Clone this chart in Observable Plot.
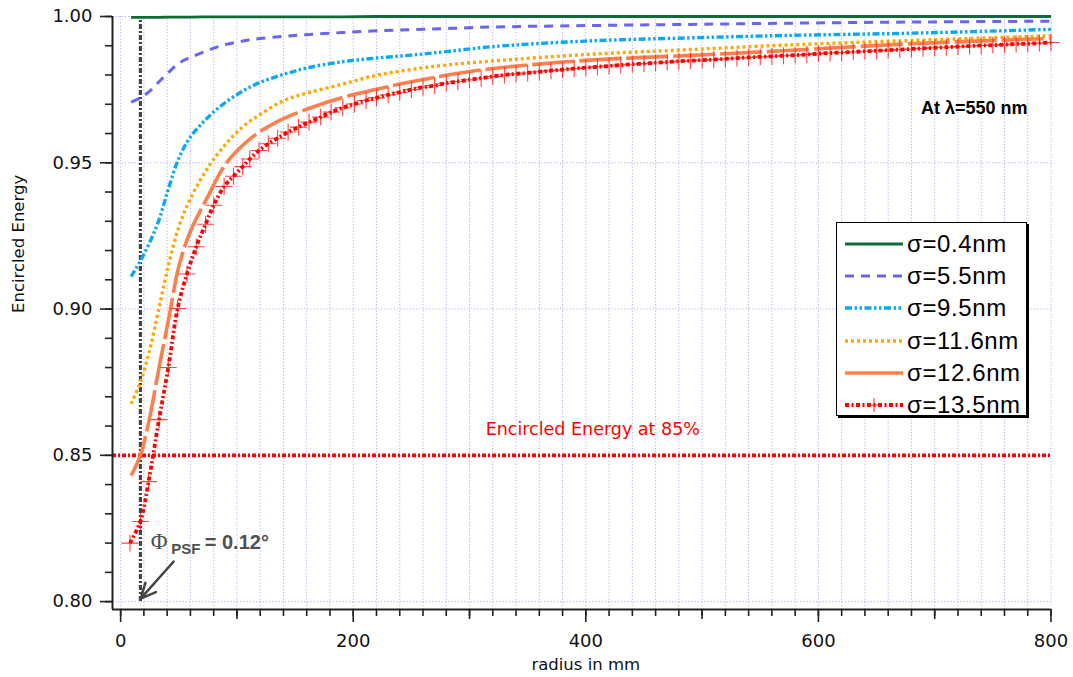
<!DOCTYPE html>
<html>
<head>
<meta charset="utf-8">
<script src="https://cdn.jsdelivr.net/npm/d3@7"></script>
<script src="https://cdn.jsdelivr.net/npm/@observablehq/plot@0.6"></script>
<style>
  html, body { margin: 0; padding: 0; background: #fff; }
  #wrap { position: relative; width: 1073px; height: 677px; overflow: hidden; }
  #legend { position: absolute; left: 836px; top: 222px; width: 191px; height: 194px;
    border: 1.5px solid #000; box-shadow: 2px 2px 0 #000; background: #fff; box-sizing: border-box; }
  .row { position: absolute; left: 0; height: 32px; display: flex; align-items: center; }
  .row svg { margin-left: 8px; }
  .row span { font-family: "Liberation Sans", Arial, sans-serif; font-size: 24px; letter-spacing: 0.6px; color: #000; margin-left: 4px; }
</style>
</head>
<body>
<div id="wrap"><div id="chart"></div><div id="legend"></div></div>
<script>
// ---- data ----
const radius = [9,17,25,33,41,50,60,75,90,105,120,140,160,190,220,250,280,320,400,490,570,680,800];
const s04  = [0.9997,0.9997,0.9997,0.9997,0.9998,0.9998,0.9998,0.9999,0.9999,0.9999,0.9999,0.9999,0.9999,0.9999,1,1,1,1,1,1,1,1,1];
const s55  = [0.9707,0.9722,0.9745,0.9777,0.9808,0.9840,0.9860,0.9884,0.9904,0.9916,0.9925,0.9932,0.9938,0.9945,0.9951,0.9955,0.9959,0.9964,0.9969,0.9973,0.9977,0.9981,0.9984];
const s95  = [0.9111,0.9165,0.9228,0.9305,0.9410,0.9515,0.9588,0.9655,0.9706,0.9745,0.9775,0.9802,0.9824,0.9845,0.9858,0.9868,0.9880,0.9897,0.9916,0.9927,0.9935,0.9943,0.9956];
const s116 = [0.8676,0.8750,0.8860,0.9003,0.9147,0.9280,0.9378,0.9483,0.9562,0.9623,0.9665,0.9712,0.9738,0.9768,0.9799,0.9819,0.9834,0.9848,0.9870,0.9887,0.9902,0.9918,0.9934];
const s126 = [0.8431,0.8501,0.8630,0.8800,0.8960,0.9145,0.9266,0.9385,0.9494,0.9560,0.9607,0.9651,0.9683,0.9722,0.9751,0.9777,0.9799,0.9822,0.9850,0.9867,0.9883,0.9907,0.9925];

const radius135 = [8,17,24,33,41,49,57,65,73,80,89,97,105,111,119,127,135,144,153,162,172,181,191,201,211,220,230,240,250,260,270,280,290,300,310,320,
  330,340,350,360,370,380,390,400,410,420,430,440,450,460,470,480,490,500,510,520,530,540,550,560,570,580,590,600,
  610,620,630,640,650,660,670,680,690,700,710,720,730,740,750,760,770,780,790,800];
const s135 = [0.8200,0.8274,0.8410,0.8622,0.8800,0.9002,0.9120,0.9213,0.9290,0.9355,0.9419,0.9454,0.9487,0.9513,0.9542,0.9565,0.9584,0.9605,0.9622,0.9639,0.9656,0.9673,0.9688,0.9701,0.9713,0.9722,0.9732,0.9741,0.9750,0.9758,0.9764,0.9772,0.9778,0.9784,0.9789,0.9795,
  0.9800,0.9804,0.9807,0.9811,0.9815,0.9818,0.9822,0.9825,0.9828,0.9831,0.9834,0.9837,0.9839,0.9842,0.9844,0.9847,0.9849,0.9851,0.9853,0.9855,0.9858,0.9860,0.9862,0.9864,0.9866,0.9868,0.9870,0.9873,
  0.9875,0.9877,0.9879,0.9881,0.9883,0.9885,0.9887,0.9889,0.9891,0.9893,0.9895,0.9897,0.9899,0.9901,0.9902,0.9904,0.9906,0.9907,0.9909,0.9911];

const seriesNames = ["σ=0.4nm","σ=5.5nm","σ=9.5nm","σ=11.6nm","σ=12.6nm","σ=13.5nm"];
const seriesColors = ["#0e6b35","#6666f2","#0aa8f5","#ffa800","#ff7f4c","#ff0000"];
const seriesDash = ["none","9,7","7,2.5,2.5,2.5,2.5,2.5","3,3","42,5","4,2.5,2,2.5"];
const seriesWidth = [2.8,3,3.4,3.4,3.6,3.8];

const threshold = [0.85];
const psfRadius = [17];
const xTicksMajor = [0,200,400,600,800];
const xTicksMid = [100,300,500,700];
const xTicksMinor = d3.range(0, 801, 20);
const yTicksMajor = [0.80,0.85,0.90,0.95,1.00];
const yTicksMinor = d3.range(0, 21).map(i => +(0.80 + i*0.01).toFixed(2));

const annText = ["Encircled Energy at 85%", "At λ=550 nm"];
const annX = [406, 734];
const annY = [0.8571, 0.9667];
const arrowFrom = {x: 45.6, y: 0.8137};
const arrowTo = {x: 17.2, y: 0.8010};
const psfParts = [
  {t: "Φ", x: 25.8, y: 0.8181, size: 23, weight: "normal", family: "Liberation Serif, serif"},
  {t: "PSF", x: 43.5, y: 0.8164, size: 15, weight: "bold", family: "Liberation Sans, Arial, sans-serif"},
  {t: "= 0.12°", x: 72.3, y: 0.8181, size: 20, weight: "bold", family: "Liberation Sans, Arial, sans-serif"}
];

// ---- build rows ----
const allSeries = [s04, s55, s95, s116, s126];
const lineMarks = allSeries.map((vals, i) =>
  Plot.line(radius.map((r, j) => ({r, v: vals[j]})), {
    x: "r", y: "v", stroke: seriesColors[i], strokeWidth: seriesWidth[i],
    strokeDasharray: seriesDash[i], curve: "catmull-rom", strokeLinecap: "butt"
  })
);
const red = radius135.map((r, j) => ({r, v: s135[j]}));

const yMin = 0.7973;
const grid = "#b0b0f2";

const plot = Plot.plot({
  width: 1073, height: 677,
  marginLeft: 112, marginRight: 22.5, marginTop: 16, marginBottom: 68,
  style: {fontFamily: "DejaVu Sans, sans-serif", background: "#fff"},
  x: {domain: [-7, 800]},
  y: {domain: [yMin, 1.0]},
  marks: [
    Plot.gridX(xTicksMinor, {stroke: grid, strokeOpacity: 1, strokeDasharray: "1.2,2", strokeWidth: 1}),
    Plot.gridY(yTicksMajor, {stroke: grid, strokeOpacity: 1, strokeDasharray: "1.2,2", strokeWidth: 1}),
    Plot.ruleY(threshold, {stroke: "#ff0000", strokeWidth: 3.8, strokeDasharray: "4,2,2,2", x1: -7, x2: 800}),
    Plot.ruleX(psfRadius, {stroke: "#444", strokeWidth: 3.2, strokeDasharray: "5,2,2,2", y1: 0.80, y2: 1.0}),
    ...lineMarks,
    Plot.dot(red, {x: "r", y: "v", symbol: "plus", r: 5.5, stroke: "#ff3030", strokeWidth: 1.1, strokeOpacity: 0.9}),
    Plot.line(red, {x: "r", y: "v", stroke: seriesColors[5], strokeWidth: seriesWidth[5], strokeDasharray: seriesDash[5], curve: "catmull-rom", strokeLinecap: "butt"}),
    Plot.arrow([0], {x1: () => arrowFrom.x, y1: () => arrowFrom.y, x2: () => arrowTo.x, y2: () => arrowTo.y,
      stroke: "#444", strokeWidth: 2.5, headLength: 13, headAngle: 50}),
    Plot.text([0], {x: () => annX[0], y: () => annY[0], text: () => annText[0], fill: "#ff0000", fontSize: 17.5, textAnchor: "middle", lineAnchor: "bottom"}),
    Plot.text([0], {x: () => annX[1], y: () => annY[1], text: () => annText[1], fill: "#000", fontSize: 18, fontWeight: "bold", fontFamily: "Liberation Sans, Arial, sans-serif", textAnchor: "middle", lineAnchor: "bottom"}),
    ...psfParts.map(p => Plot.text([p], {x: "x", y: "y", text: "t", fill: "#505050", fontSize: p.size, fontWeight: p.weight, fontFamily: p.family, textAnchor: "start", lineAnchor: "bottom"})),
    // axes
    Plot.ruleX([-7], {stroke: "#222", strokeWidth: 2}),
    Plot.ruleY([yMin], {stroke: "#222", strokeWidth: 2}),
    Plot.axisX(xTicksMajor, {tickSize: 13, tickPadding: 12, fontSize: 18, tickFormat: d3.format("d"), strokeWidth: 1.6, stroke: "#222", fill: "#111", label: null}),
    Plot.axisX(xTicksMid, {tickSize: 10, text: null, strokeWidth: 1.6, stroke: "#222", label: null}),
    Plot.axisX(xTicksMinor, {tickSize: 7, text: null, strokeWidth: 1.6, stroke: "#222", label: null}),
    Plot.axisY(yTicksMajor, {tickSize: 12, tickPadding: 8, fontSize: 18, tickFormat: d3.format(".2f"), strokeWidth: 1.6, stroke: "#222", fill: "#111", label: null}),
    Plot.axisY(yTicksMinor, {tickSize: 7, text: null, strokeWidth: 1.6, stroke: "#222", label: null}),
    Plot.text(["radius in mm"], {frameAnchor: "bottom", dy: 60, dx: 4, fontSize: 16.5, fill: "#111", lineAnchor: "bottom"}),
    Plot.text(["Encircled Energy"], {frameAnchor: "left", dx: -94, rotate: -90, fontSize: 16.5, fill: "#111"})
  ]
});
document.getElementById("chart").appendChild(plot);

// ---- legend ----
const legend = document.getElementById("legend");
seriesNames.forEach((name, i) => {
  const row = document.createElement("div");
  row.className = "row";
  row.style.top = (5 + i * 32.2) + "px";
  const marker = i === 5 ? `<path d="M29,0 V14 M23,7 H35" stroke="#ff2020" stroke-width="1" fill="none"/>` : "";
  row.innerHTML = `<svg width="58" height="14" viewBox="0 0 58 14">
      <line x1="0" y1="7" x2="58" y2="7" stroke="${seriesColors[i]}" stroke-width="${seriesWidth[i]}"
        stroke-dasharray="${i === 4 ? 'none' : seriesDash[i]}"/>${marker}</svg><span>${name}</span>`;
  legend.appendChild(row);
});
</script>
</body>
</html>
